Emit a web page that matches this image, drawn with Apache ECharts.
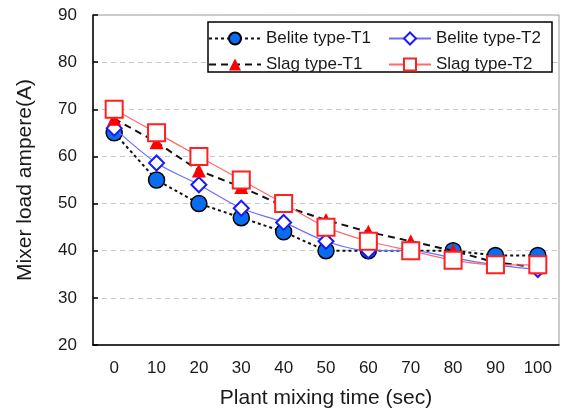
<!DOCTYPE html>
<html>
<head>
<meta charset="utf-8">
<script src="https://cdn.jsdelivr.net/npm/echarts@6/dist/echarts.min.js"></script>
<style>
  html, body { margin: 0; padding: 0; background: #fff; }
  #chart { width: 563px; height: 408px; }
</style>
</head>
<body>
<div id="chart"></div>
<script>
// Mixing time (sec) on the category axis
const mixingTime = ['0', '10', '20', '30', '40', '50', '60', '70', '80', '90', '100'];

// Mixer load ampere (A) per cement type
const beliteT1 = [65, 55, 50, 47, 44, 40, 40, 40, 40, 39, 39];
const beliteT2 = [66, 58.6, 54, 49, 46, 42, 40, 40, 38.5, 37, 36];
const slagT1 = [68, 63, 57, 53.5, 49.5, 46.5, 44, 42, 40, 37.5, 36.5];
const slagT2 = [70, 65, 60, 55, 50, 45, 42, 40, 38, 37, 37];

const yTicks = { min: 20, max: 90, interval: 10 };

const FONT = "'Liberation Sans', Arial, sans-serif";
const TEXT = '#1a1a1a';

const chart = echarts.init(document.getElementById('chart'), null, { renderer: 'canvas' });

chart.setOption({
  animation: false,
  backgroundColor: '#fff',
  textStyle: { fontFamily: FONT },
  grid: {
    left: 93, top: 15, right: 4, bottom: 63,
    outerBoundsMode: 'none',
    containLabel: false,
    show: true, borderColor: '#9a9a9a', borderWidth: 1, backgroundColor: '#fff'
  },
  graphic: [{
    type: 'rect',
    z: 3,
    shape: { x: 208, y: 22, width: 344, height: 50 },
    style: { fill: '#fff', stroke: '#000', lineWidth: 1.5 }
  }],
  legend: [
    {
      z: 5,
      orient: 'vertical', left: 203, top: 25,
      itemWidth: 52, itemHeight: 15, itemGap: 9,
      textStyle: { fontSize: 17, color: TEXT, fontFamily: FONT },
      data: ['Belite type-T1', 'Slag type-T1']
    },
    {
      z: 5,
      orient: 'vertical', left: 383, top: 25,
      itemWidth: 42, itemHeight: 15, itemGap: 9,
      textStyle: { fontSize: 17, color: TEXT, fontFamily: FONT },
      data: ['Belite type-T2', 'Slag type-T2']
    }
  ],
  xAxis: {
    type: 'category',
    data: mixingTime,
    boundaryGap: true,
    name: 'Plant mixing time (sec)',
    nameLocation: 'middle',
    nameGap: 43,
    nameTextStyle: { fontSize: 21, color: TEXT, fontFamily: FONT },
    axisLine: { lineStyle: { color: '#000', width: 1.5 } },
    axisTick: { inside: true, alignWithLabel: true, length: 5, lineStyle: { color: '#000', width: 1.5 } },
    axisLabel: { fontSize: 17, color: TEXT, margin: 15, fontFamily: FONT },
    splitLine: { show: false }
  },
  yAxis: {
    type: 'value',
    min: yTicks.min, max: yTicks.max, interval: yTicks.interval,
    name: 'Mixer load ampere(A)',
    nameLocation: 'middle',
    nameGap: 57,
    nameTextStyle: { fontSize: 21, color: TEXT, fontFamily: FONT },
    axisLine: { show: true, lineStyle: { color: '#000', width: 1.5 } },
    axisTick: { show: true, inside: true, length: 5, lineStyle: { color: '#000', width: 1.5 } },
    axisLabel: { fontSize: 17, color: TEXT, margin: 16, fontFamily: FONT },
    splitLine: { show: true, lineStyle: { color: '#c8c8c8', type: [5, 4], width: 1 } }
  },
  series: [
    {
      name: 'Belite type-T1', type: 'line', data: beliteT1,
      symbol: 'circle', symbolSize: 16,
      itemStyle: { color: '#0a6cf0', borderColor: '#000', borderWidth: 1.5 },
      lineStyle: { color: '#111', width: 2, type: [3, 3] },
      z: 2
    },
    {
      name: 'Belite type-T2', type: 'line', data: beliteT2,
      symbol: 'diamond', symbolSize: 15, smooth: 0.3,
      itemStyle: { color: '#fff', borderColor: '#1a1aff', borderWidth: 2 },
      lineStyle: { color: '#6d6dff', width: 1.2 },
      z: 3
    },
    {
      name: 'Slag type-T1', type: 'line', data: slagT1,
      symbol: 'triangle', symbolSize: 14,
      itemStyle: { color: '#ff0000', borderColor: '#ff0000', borderWidth: 0 },
      lineStyle: { color: '#111', width: 2, type: [7, 5] },
      z: 4
    },
    {
      name: 'Slag type-T2', type: 'line', data: slagT2,
      symbol: 'rect', symbolSize: 17, smooth: 0.3,
      itemStyle: { color: '#fff', borderColor: '#ff2020', borderWidth: 2 },
      lineStyle: { color: '#ff6b6b', width: 1.2 },
      z: 5
    }
  ]
});
</script>
</body>
</html>
